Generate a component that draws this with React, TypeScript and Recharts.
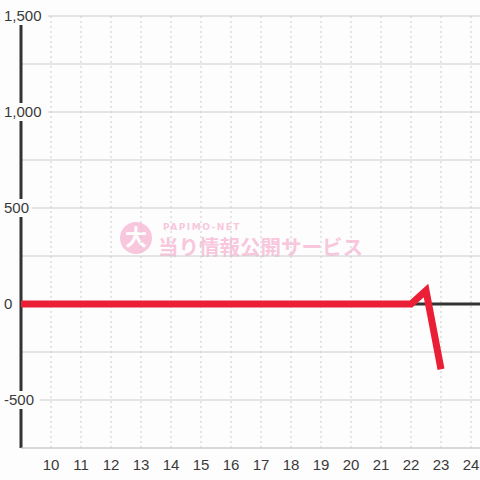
import { LineChart, Line, XAxis, YAxis, CartesianGrid, ReferenceLine } from 'recharts';

// hour of day -> balance
const hours = [9, 22, 22.5, 23];
const balance = [0, 0, 70, -340];
const hourTicks = [10, 11, 12, 13, 14, 15, 16, 17, 18, 19, 20, 21, 22, 23, 24];
const gridTicks = [-750, -500, -250, 0, 250, 500, 750, 1000, 1250, 1500];

const data = hours.map((h, i) => ({ hour: h, value: balance[i] }));

const BG = '#fdfdfd';
const TEXT = '#3a3a3a';
const FONT = '"Liberation Sans", Arial, sans-serif';

const renderYTick = (props: any) => {
  const v = Number(props.payload.value);
  if (v % 500 !== 0) return <g key={props.index} />;
  const label = v.toLocaleString('en-US');
  const w = label.length * 8.2;
  return (
    <g key={props.index}>
      <rect x={2} y={props.y - 9} width={w + 5} height={18} fill={BG} />
      <text x={4} y={props.y} dy="0.35em" fill={TEXT} fontSize={15} fontFamily={FONT} textAnchor="start">
        {label}
      </text>
    </g>
  );
};

const renderXTick = (props: any) => (
  <text key={props.index} x={props.x} y={props.y + 14} fill={TEXT} fontSize={15} fontFamily={FONT} textAnchor="middle">
    {props.payload.value}
  </text>
);

function Watermark() {
  return (
    <div style={{ position: 'absolute', left: 0, top: 0, width: 480, height: 480, pointerEvents: 'none' }}>
      <svg width={480} height={480}>
        <g opacity={0.6}>
          <circle cx={136} cy={238} r={16} fill="#f5a3c8" />
          <text x={136} y={245} textAnchor="middle" fontSize={22} fontWeight="bold" fill="#ffffff"
            fontFamily='"Noto Sans CJK JP", sans-serif'>大</text>
          <text x={163} y={230} fontSize={9} fontWeight="bold" letterSpacing={1.5} fill="#f5a3c8"
            fontFamily='"DejaVu Sans", sans-serif'>PAPIMO-NET</text>
          <text x={158} y={255} fontSize={20.5} fontWeight="bold" fill="#f5a3c8"
            fontFamily='"Noto Sans CJK JP", sans-serif'>当り情報公開サービス</text>
        </g>
      </svg>
    </div>
  );
}

export default function App() {
  return (
    <div style={{ position: 'absolute', left: 0, top: 0, width: 480, height: 480, overflow: 'hidden', background: BG }}>
      <Watermark />
      <div style={{ position: 'absolute', left: 0, top: 0 }}>
        <LineChart width={481} height={480} data={data} margin={{ top: 16, right: 0, left: 20, bottom: 0 }}>
          <CartesianGrid vertical={false} stroke="#cccccc" />
          <CartesianGrid horizontal={false} stroke="#cccccc" strokeDasharray="2 3" />
          <XAxis
            type="number"
            dataKey="hour"
            domain={[9, 24.333]}
            ticks={hourTicks}
            interval={0}
            allowDataOverflow
            height={32}
            axisLine={{ stroke: '#cccccc' }}
            tickLine={false}
            tick={renderXTick}
          />
          <YAxis
            type="number"
            domain={[-750, 1500]}
            ticks={gridTicks}
            interval={0}
            width={1}
            axisLine={false}
            tickLine={false}
            tick={renderYTick}
          />
          <ReferenceLine x={9} stroke="#333333" strokeWidth={3} />
          <ReferenceLine y={0} stroke="#333333" strokeWidth={3} />
          <Line
            type="linear"
            dataKey="value"
            stroke="#ea1f36"
            strokeWidth={7}
            strokeLinecap="butt"
            dot={false}
            activeDot={false}
            isAnimationActive={false}
          />
        </LineChart>
      </div>
    </div>
  );
}
